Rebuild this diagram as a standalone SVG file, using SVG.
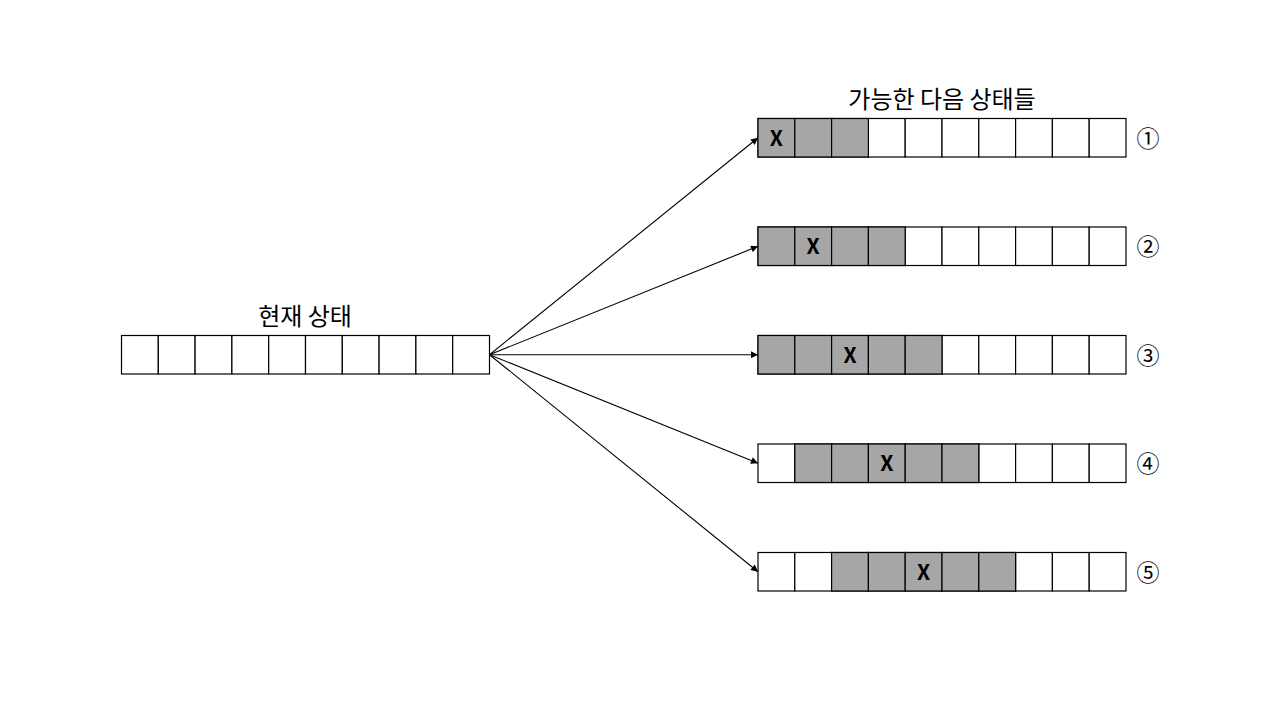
<svg xmlns="http://www.w3.org/2000/svg" width="1280" height="720" viewBox="0 0 1280 720">
<defs>
<marker id="ah" viewBox="0 0 10 10" refX="10" refY="5" markerWidth="9" markerHeight="7" markerUnits="userSpaceOnUse" orient="auto">
<path d="M0,0 L10,5 L0,10 z" fill="#000"/>
</marker>
<g id="row">
<rect x="0" y="0" width="36.8" height="38.5"/>
<rect x="36.8" y="0" width="36.8" height="38.5"/>
<rect x="73.6" y="0" width="36.8" height="38.5"/>
<rect x="110.4" y="0" width="36.8" height="38.5"/>
<rect x="147.2" y="0" width="36.8" height="38.5"/>
<rect x="184" y="0" width="36.8" height="38.5"/>
<rect x="220.8" y="0" width="36.8" height="38.5"/>
<rect x="257.6" y="0" width="36.8" height="38.5"/>
<rect x="294.4" y="0" width="36.8" height="38.5"/>
<rect x="331.2" y="0" width="36.8" height="38.5"/>
</g>
</defs>
<style>
.cells{fill:#fff;stroke:#000;stroke-width:1.2}
.g{fill:#a6a6a6;stroke:#000;stroke-width:1.2}
.x{font-family:"Noto Sans CJK KR","Liberation Sans",sans-serif;font-weight:bold;font-size:21px;text-anchor:middle;fill:#000}
.t{font-family:"Noto Sans CJK KR","Noto Sans",sans-serif;font-size:24px;text-anchor:middle;fill:#000}
.n{font-family:"Noto Sans CJK KR","DejaVu Sans",sans-serif;font-size:23px;text-anchor:middle;fill:#000}
.c line{stroke:#000;stroke-width:1.1;marker-end:url(#ah)}
</style>
<rect width="1280" height="720" fill="#fff"/>

<g id="current">
<text class="t" x="305" y="325">현재 상태</text>
<use href="#row" class="cells" x="121.5" y="335.5"/>
</g>

<g id="next-title">
<text class="t" x="942" y="108">가능한 다음 상태들</text>
</g>

<g id="state1">
<use href="#row" class="cells" x="758" y="118.5"/>
<rect class="g" x="758" y="118.5" width="36.8" height="38.5"/>
<rect class="g" x="794.8" y="118.5" width="36.8" height="38.5"/>
<rect class="g" x="831.6" y="118.5" width="36.8" height="38.5"/>
<text class="x" x="776.4" y="145.5">X</text>
<text class="n" x="1148" y="146.5">①</text>
</g>

<g id="state2">
<use href="#row" class="cells" x="758" y="227"/>
<rect class="g" x="758" y="227" width="36.8" height="38.5"/>
<rect class="g" x="794.8" y="227" width="36.8" height="38.5"/>
<rect class="g" x="831.6" y="227" width="36.8" height="38.5"/>
<rect class="g" x="868.4" y="227" width="36.8" height="38.5"/>
<text class="x" x="813.2" y="254">X</text>
<text class="n" x="1148" y="255">②</text>
</g>

<g id="state3">
<use href="#row" class="cells" x="758" y="335.5"/>
<rect class="g" x="758" y="335.5" width="36.8" height="38.5"/>
<rect class="g" x="794.8" y="335.5" width="36.8" height="38.5"/>
<rect class="g" x="831.6" y="335.5" width="36.8" height="38.5"/>
<rect class="g" x="868.4" y="335.5" width="36.8" height="38.5"/>
<rect class="g" x="905.2" y="335.5" width="36.8" height="38.5"/>
<text class="x" x="850" y="362.5">X</text>
<text class="n" x="1148" y="363.5">③</text>
</g>

<g id="state4">
<use href="#row" class="cells" x="758" y="444"/>
<rect class="g" x="794.8" y="444" width="36.8" height="38.5"/>
<rect class="g" x="831.6" y="444" width="36.8" height="38.5"/>
<rect class="g" x="868.4" y="444" width="36.8" height="38.5"/>
<rect class="g" x="905.2" y="444" width="36.8" height="38.5"/>
<rect class="g" x="942" y="444" width="36.8" height="38.5"/>
<text class="x" x="886.8" y="471">X</text>
<text class="n" x="1148" y="472">④</text>
</g>

<g id="state5">
<use href="#row" class="cells" x="758" y="552.5"/>
<rect class="g" x="831.6" y="552.5" width="36.8" height="38.5"/>
<rect class="g" x="868.4" y="552.5" width="36.8" height="38.5"/>
<rect class="g" x="905.2" y="552.5" width="36.8" height="38.5"/>
<rect class="g" x="942" y="552.5" width="36.8" height="38.5"/>
<rect class="g" x="978.8" y="552.5" width="36.8" height="38.5"/>
<text class="x" x="923.6" y="579.5">X</text>
<text class="n" x="1148" y="580.5">⑤</text>
</g>

<g id="connectors" class="c">
<line x1="489.5" y1="354.7" x2="758" y2="137.8"/>
<line x1="489.5" y1="354.7" x2="758" y2="246.3"/>
<line x1="489.5" y1="354.7" x2="758" y2="354.7"/>
<line x1="489.5" y1="354.7" x2="758" y2="463.2"/>
<line x1="489.5" y1="354.7" x2="758" y2="571.7"/>
</g>
</svg>
